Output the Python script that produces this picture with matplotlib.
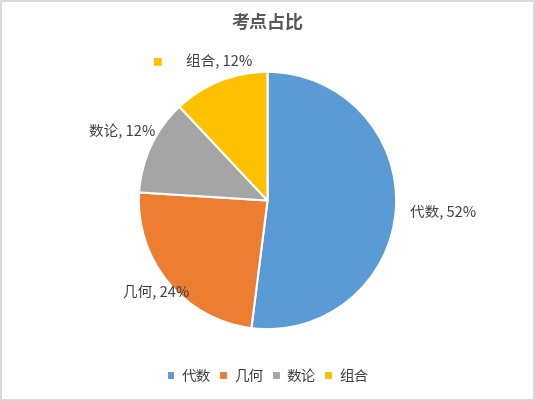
import matplotlib
matplotlib.use("Agg")
import matplotlib.pyplot as plt
import numpy as np

plt.rcParams['font.family'] = ['Noto Sans CJK SC', 'DejaVu Sans']

categories = ['代数', '几何', '数论', '组合']
values = [52, 24, 12, 12]
colors = ['#5B9BD5', '#ED7D31', '#A5A5A5', '#FFC000']
label_dist = [1.37, 1.12, 1.25, 1.16]

fig = plt.figure(figsize=(5.35, 4.01), dpi=100)
fig.patch.set_edgecolor('#D9D9D9')
fig.patch.set_linewidth(1.5)
ax = fig.add_axes([0.257, 0.176, 0.486, 0.648])
wedges, _ = ax.pie(values, colors=colors, startangle=90, counterclock=False,
                   wedgeprops=dict(edgecolor='white', linewidth=1.5))
ax.set_aspect('equal')
for w, c, v, d in zip(wedges, categories, values, label_dist):
    ang = np.deg2rad((w.theta1 + w.theta2) / 2)
    x, y = d * np.cos(ang), d * np.sin(ang)
    if c == '组合':
        ax.text(x + 0.05, y, f"{c}, {v}%", ha='center', va='center', fontsize=10.5, color='#404040', clip_on=False)
        ax.text(x - 0.43, y, "■", ha='center', va='center', fontsize=7, color='#FFC000', clip_on=False)
    else:
        ax.text(x, y, f"{c}, {v}%", ha='center', va='center', fontsize=10.5, color='#404040', clip_on=False)
ax.set_xlim(-1.01, 1.01)
ax.set_ylim(-1.01, 1.01)

fig.text(0.5, 0.945, '考点占比', ha='center', va='center', fontsize=13,
         fontweight='bold', color='#595959')
fig.legend(wedges, categories, loc='center', bbox_to_anchor=(0.5, 0.06), ncol=4,
           frameon=False, fontsize=10.5, handlelength=0.6, handleheight=0.6,
           columnspacing=0.6, handletextpad=0.4, labelcolor='#404040')
fig.savefig('out.png', dpi=100, edgecolor=fig.get_edgecolor())
